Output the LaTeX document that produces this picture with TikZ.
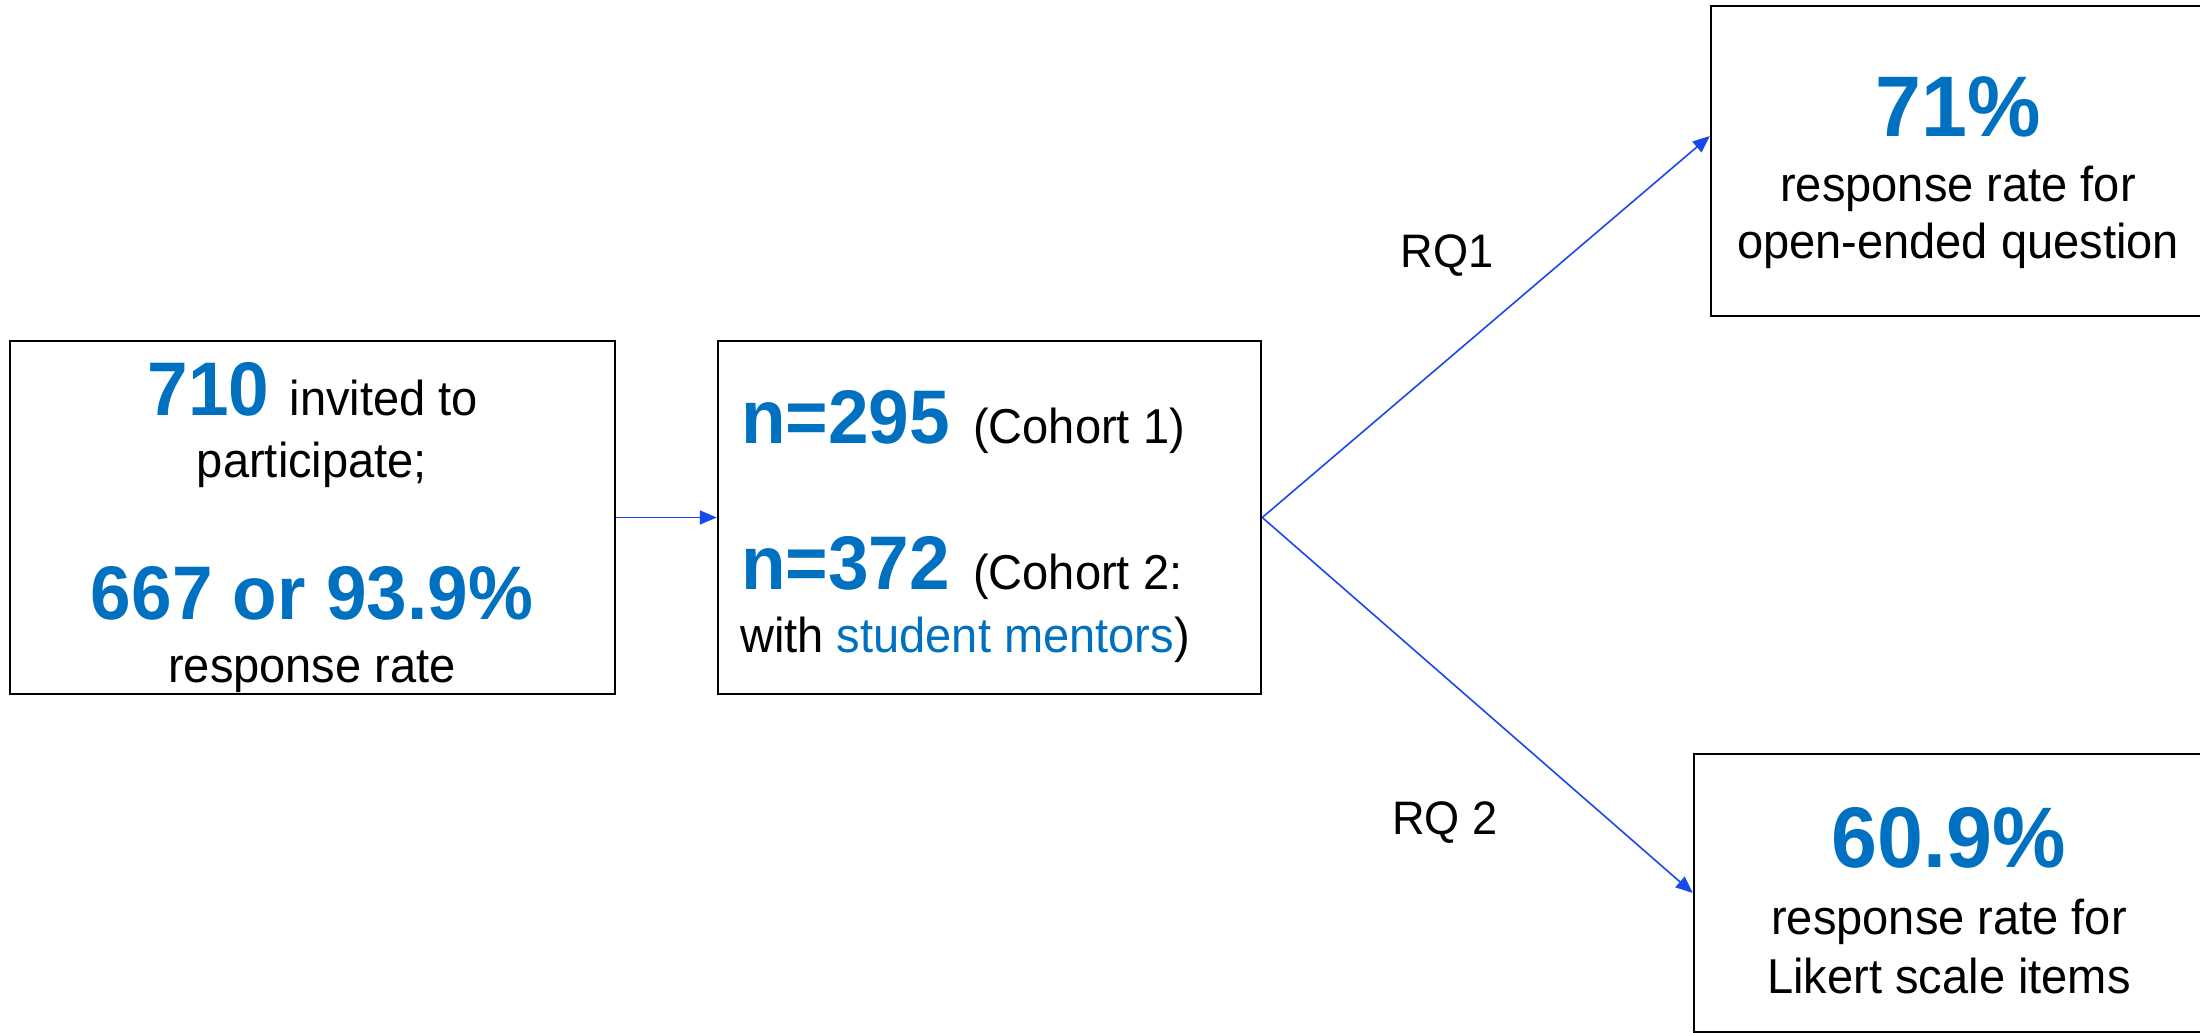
\documentclass[tikz,border=0pt]{standalone}
\usepackage{fontspec}
\setmainfont{Liberation Sans}[FakeStretch=0.96]
\usetikzlibrary{arrows.meta}
\definecolor{numblue}{RGB}{0,112,192}
\definecolor{linkblue}{RGB}{25,72,235}
\newcommand\regtxt{\fontsize{49}{59}\selectfont}
\newcommand\rqtxt{\fontsize{47}{56}\selectfont}
\newcommand\bignum{\fontsize{76}{88}\selectfont\bfseries\color{numblue}}
\newcommand\hugenum{\fontsize{86}{98}\selectfont\bfseries\color{numblue}}
\begin{document}
\begin{tikzpicture}[x=1pt,y=-1pt,
  box/.style={draw=black, line width=2.5pt, rectangle, inner sep=0pt},
  txt/.style={inner sep=0pt, anchor=base},
  flow/.style={draw=linkblue, line width=1.6pt, -{Triangle[length=17pt,width=14pt]}},
]
\useasboundingbox (0,0) rectangle (2200,1033);
\clip (0,0) rectangle (2200,1033);

% boxes
\node[box, minimum width=605pt, minimum height=353pt] (b1) at (312.5,517.5) {};
\node[box, minimum width=543pt, minimum height=353pt] (b2) at (989.5,517.5) {};
\node[box, minimum width=494pt, minimum height=310pt] (b3) at (1958,161) {};
\node[box, minimum width=510pt, minimum height=278pt] (b4) at (1949,893) {};

% invitation and response
\node[txt] (t1a) at (313,415) {{\bignum 710 }{\regtxt invited to}};
\node[txt] (t1b) at (312,477) {\regtxt participate;};
\node[txt] (t1c) at (312,619) {\bignum 667 or 93.9\%};
\node[txt] (t1d) at (312,682) {\regtxt response rate};

% cohorts
\node[txt, anchor=base west] (n1) at (741,443) {\bignum n=295};
\node[txt, anchor=base west] (c1) at (973,443) {\regtxt (Cohort 1)};
\node[txt, anchor=base west] (n2) at (741,589) {\bignum n=372};
\node[txt, anchor=base west] (c2) at (973,589) {\regtxt (Cohort 2:};
\node[txt, anchor=base west] (c3) at (740,652) {\regtxt with {\color{numblue}student mentors})};

% open-ended question
\node[txt] (t3a) at (1958,136) {\hugenum 71\%};
\node[txt] (t3b) at (1958,201) {\regtxt response rate for};
\node[txt] (t3c) at (1958,258) {\regtxt open-ended question};

% Likert items
\node[txt] (t4a) at (1949,867) {\hugenum 60.9\%};
\node[txt] (t4b) at (1949,934) {\regtxt response rate for};
\node[txt] (t4c) at (1949,993) {\regtxt Likert scale items};

% research question labels
\node[txt] (rq1) at (1447,267) {\rqtxt RQ1};
\node[txt] (rq2) at (1445,834) {\rqtxt RQ 2};

% connectors
\draw[flow] (b1.east) -- (b2.west);
\draw[flow] (b2.east) -- ([yshift=25pt]b3.west);
\draw[flow] (b2.east) -- (b4.west);
\end{tikzpicture}
\end{document}
